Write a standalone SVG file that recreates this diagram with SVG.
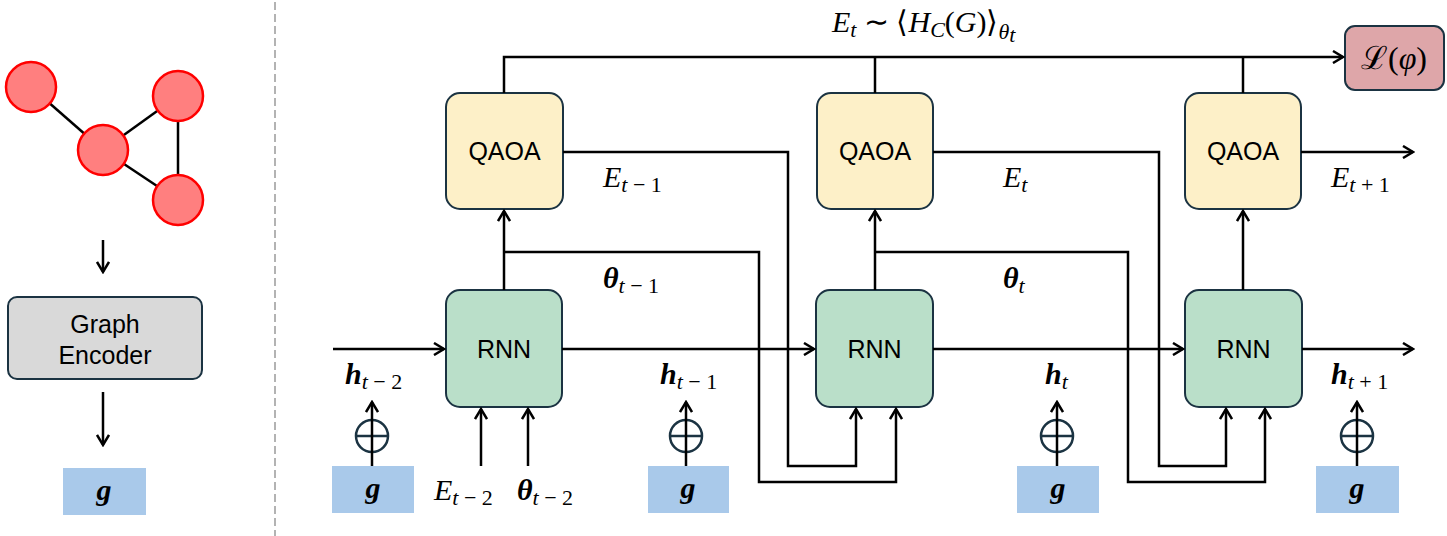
<svg xmlns="http://www.w3.org/2000/svg" width="1447" height="536" viewBox="0 0 1447 536">
<defs>
<marker id="arr" markerWidth="14" markerHeight="14" viewBox="-12 -7 14 14" refX="0" refY="0" orient="auto" markerUnits="userSpaceOnUse">
<path d="M-10,-6 L0,0 L-10,6" fill="none" stroke="#000" stroke-width="2.5"/>
</marker>
<style>
.ln{fill:none;stroke:#000;stroke-width:2.5}
.box{stroke:#1b3342;stroke-width:2}
.qaoa{fill:#fdf0c8}
.rnn{fill:#badfc9}
.enc{fill:#d9d9d9}
.loss{fill:#dea6a9}
.gbox{fill:#a9c9ea}
.lbl{font-family:"Liberation Sans",Arial,sans-serif;font-size:25px;fill:#000;text-anchor:middle}
.m{font-family:"Liberation Serif","Times New Roman",serif;font-style:italic;font-size:30px;fill:#000}
.mb{font-family:"Liberation Serif","Times New Roman",serif;font-style:italic;font-weight:bold;font-size:30px;fill:#000}
.sub{font-size:22px;font-weight:normal;font-style:italic}
.up{font-style:normal}
.node{fill:#ff7f7f;stroke:#ff0000;stroke-width:2.5}
.plus{fill:none;stroke:#1b3342;stroke-width:2.5}
</style>
</defs>

<!-- separator -->
<line x1="275" y1="2" x2="275" y2="536" stroke="#9a9a9a" stroke-width="1.5" stroke-dasharray="8,4"/>

<!-- input graph -->
<g id="input-graph">
<line x1="31" y1="87" x2="103" y2="150" stroke="#000" stroke-width="2.5"/>
<line x1="103" y1="150" x2="178" y2="96" stroke="#000" stroke-width="2.5"/>
<line x1="103" y1="150" x2="178" y2="200" stroke="#000" stroke-width="2.5"/>
<line x1="178" y1="96" x2="178" y2="200" stroke="#000" stroke-width="2.5"/>
<circle class="node" cx="31" cy="87" r="25"/>
<circle class="node" cx="103" cy="150" r="25"/>
<circle class="node" cx="178" cy="96" r="25"/>
<circle class="node" cx="178" cy="200" r="25"/>
</g>

<g id="graph-encoder">
<rect class="box enc" x="8" y="297" width="194" height="82" rx="9"/>
<text class="lbl" x="105" y="333">Graph</text>
<text class="lbl" x="105" y="364">Encoder</text>
</g>

<g id="g-left">
<rect class="gbox" x="63" y="468" width="83" height="47"/>
<text class="mb" x="104" y="500" text-anchor="middle">g</text>
</g>

<!-- nodes -->
<g id="qaoa1"><rect class="box qaoa" x="446" y="93" width="117" height="116" rx="14"/><text class="lbl" x="504.5" y="160">QAOA</text></g>
<g id="qaoa2"><rect class="box qaoa" x="817" y="93" width="116" height="116" rx="14"/><text class="lbl" x="875" y="160">QAOA</text></g>
<g id="qaoa3"><rect class="box qaoa" x="1185" y="93" width="116" height="116" rx="14"/><text class="lbl" x="1243" y="160">QAOA</text></g>

<g id="rnn1"><rect class="box rnn" x="446" y="290" width="116" height="117" rx="14"/><text class="lbl" x="504" y="358">RNN</text></g>
<g id="rnn2"><rect class="box rnn" x="816" y="290" width="117" height="117" rx="14"/><text class="lbl" x="874.5" y="358">RNN</text></g>
<g id="rnn3"><rect class="box rnn" x="1185" y="290" width="117" height="117" rx="14"/><text class="lbl" x="1243.5" y="358">RNN</text></g>

<g id="loss"><rect class="box loss" x="1345" y="26" width="99" height="64" rx="10"/>
<text x="1394" y="69" text-anchor="middle" font-family="'Liberation Serif','Times New Roman',serif" font-size="32px">ℒ(<tspan font-style="italic">φ</tspan>)</text></g>

<g id="g1"><rect class="gbox" x="332" y="466" width="82" height="47"/><text class="mb" x="373" y="498" text-anchor="middle">g</text></g>
<g id="g2"><rect class="gbox" x="648" y="466" width="81" height="47"/><text class="mb" x="688" y="498" text-anchor="middle">g</text></g>
<g id="g3"><rect class="gbox" x="1017" y="466" width="82" height="47"/><text class="mb" x="1058" y="498" text-anchor="middle">g</text></g>
<g id="g4"><rect class="gbox" x="1316" y="466" width="83" height="47"/><text class="mb" x="1357" y="498" text-anchor="middle">g</text></g>

<g id="oplus1"><circle class="plus" cx="372" cy="436" r="16"/><line class="plus" x1="356" y1="436" x2="388" y2="436"/></g>
<g id="oplus2"><circle class="plus" cx="686" cy="436" r="16"/><line class="plus" x1="670" y1="436" x2="702" y2="436"/></g>
<g id="oplus3"><circle class="plus" cx="1057" cy="436" r="16"/><line class="plus" x1="1041" y1="436" x2="1073" y2="436"/></g>
<g id="oplus4"><circle class="plus" cx="1357" cy="436" r="16"/><line class="plus" x1="1341" y1="436" x2="1373" y2="436"/></g>

<!-- connectors -->
<g id="connectors">
<line class="ln" x1="103" y1="240" x2="103" y2="272" marker-end="url(#arr)"/>
<line class="ln" x1="103" y1="392" x2="103" y2="445" marker-end="url(#arr)"/>

<polyline class="ln" points="504,93 504,57 1343,57" marker-end="url(#arr)"/>
<line class="ln" x1="875" y1="93" x2="875" y2="57"/>
<line class="ln" x1="1243" y1="93" x2="1243" y2="57"/>

<line class="ln" x1="504" y1="290" x2="504" y2="211" marker-end="url(#arr)"/>
<line class="ln" x1="875" y1="290" x2="875" y2="211" marker-end="url(#arr)"/>
<line class="ln" x1="1243" y1="290" x2="1243" y2="211" marker-end="url(#arr)"/>

<line class="ln" x1="333" y1="349" x2="444" y2="349" marker-end="url(#arr)"/>
<line class="ln" x1="562" y1="349" x2="814" y2="349" marker-end="url(#arr)"/>
<line class="ln" x1="933" y1="349" x2="1183" y2="349" marker-end="url(#arr)"/>
<line class="ln" x1="1302" y1="349" x2="1413" y2="349" marker-end="url(#arr)"/>

<line class="ln" x1="1301" y1="152" x2="1413" y2="152" marker-end="url(#arr)"/>

<polyline class="ln" points="563,152 788,152 788,466 856,466 856,409" marker-end="url(#arr)"/>
<polyline class="ln" points="933,152 1159,152 1159,466 1226,466 1226,409" marker-end="url(#arr)"/>
<polyline class="ln" points="504,252 759,252 759,482 896,482 896,409" marker-end="url(#arr)"/>
<polyline class="ln" points="875,252 1128,252 1128,482 1265,482 1265,409" marker-end="url(#arr)"/>

<line class="ln" x1="481" y1="466" x2="481" y2="409" marker-end="url(#arr)"/>
<line class="ln" x1="528" y1="466" x2="528" y2="409" marker-end="url(#arr)"/>

<line class="ln" x1="372" y1="466" x2="372" y2="402" marker-end="url(#arr)"/>
<line class="ln" x1="686" y1="466" x2="686" y2="402" marker-end="url(#arr)"/>
<line class="ln" x1="1057" y1="466" x2="1057" y2="402" marker-end="url(#arr)"/>
<line class="ln" x1="1357" y1="466" x2="1357" y2="402" marker-end="url(#arr)"/>
</g>

<!-- math labels -->
<g id="labels">
<text class="m" x="832" y="32">E<tspan class="sub" dy="5">t</tspan><tspan dy="-5" class="up"> ∼ ⟨</tspan>H<tspan class="sub" dy="5">C</tspan><tspan dy="-5" class="up">(</tspan>G<tspan class="up">)⟩</tspan><tspan class="sub" dy="7" font-weight="bold">θ</tspan><tspan class="sub" dy="3" font-size="17px">t</tspan></text>

<text class="m" x="603" y="187">E<tspan class="sub" dy="5">t<tspan class="up"> − 1</tspan></tspan></text>
<text class="m" x="1003" y="187">E<tspan class="sub" dy="5">t</tspan></text>
<text class="m" x="1331" y="187">E<tspan class="sub" dy="5">t<tspan class="up"> + 1</tspan></tspan></text>

<text class="mb" x="603" y="288">θ<tspan class="sub" dy="5">t<tspan class="up"> − 1</tspan></tspan></text>
<text class="mb" x="1003" y="288">θ<tspan class="sub" dy="5">t</tspan></text>

<text class="m" x="434" y="500">E<tspan class="sub" dy="5">t<tspan class="up"> − 2</tspan></tspan></text>
<text class="mb" x="517" y="500">θ<tspan class="sub" dy="5">t<tspan class="up"> − 2</tspan></tspan></text>

<text class="mb" x="345" y="384">h<tspan class="sub" dy="5">t<tspan class="up"> − 2</tspan></tspan></text>
<text class="mb" x="660" y="384">h<tspan class="sub" dy="5">t<tspan class="up"> − 1</tspan></tspan></text>
<text class="mb" x="1045" y="384">h<tspan class="sub" dy="5">t</tspan></text>
<text class="mb" x="1331" y="384">h<tspan class="sub" dy="5">t<tspan class="up"> + 1</tspan></tspan></text>
</g>
</svg>
